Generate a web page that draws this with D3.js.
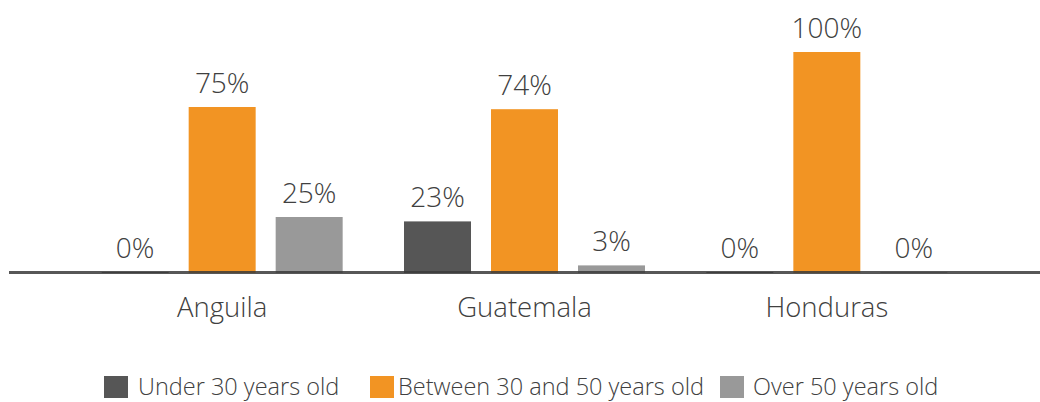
<!DOCTYPE html>
<html>
<head>
<meta charset="utf-8">
<script src="https://cdn.jsdelivr.net/npm/d3@7"></script>
<style>
  html, body { margin: 0; padding: 0; background: #ffffff; }
  svg { display: block; font-family: "Open Sans", Roboto, sans-serif; }
</style>
</head>
<body>
<svg id="chart" width="1040" height="402"></svg>
<script>
// Age distribution per country (percent)
const countries = ["Anguila", "Guatemala", "Honduras"];
const seriesNames = ["Under 30 years old", "Between 30 and 50 years old", "Over 50 years old"];
const under30 = [0, 23, 0];
const between30and50 = [75, 74, 100];
const over50 = [25, 3, 0];
const seriesColors = ["#565656", "#F29423", "#999999"];

const seriesValues = [under30, between30and50, over50];

const W = 1040, H = 402;
const FONT = "'Open Sans', Roboto, sans-serif";
const svg = d3.select("#chart");

const x0 = d3.scaleBand().domain(countries).range([71, 978]).padding(0);
const x1 = d3.scaleBand().domain(seriesNames)
  .range([-130.5, 130.5]).paddingInner(0.23).paddingOuter(0.115);
const y = d3.scaleLinear().domain([0, 100]).range([272, 52]);
const color = d3.scaleOrdinal().domain(seriesNames).range(seriesColors);

const rows = [];
countries.forEach((c, i) => {
  seriesNames.forEach((s, j) => rows.push({ country: c, series: s, value: seriesValues[j][i] }));
});

const cx = d => x0(d.country) + x0.bandwidth() / 2 + x1(d.series);

// bars
svg.append("g").selectAll("rect").data(rows).join("rect")
  .attr("x", cx)
  .attr("y", d => y(d.value))
  .attr("width", x1.bandwidth())
  .attr("height", d => y(0) - y(d.value) + 1)
  .attr("fill", d => color(d.series));

// value labels
svg.append("g").selectAll("text").data(rows).join("text")
  .attr("x", d => cx(d) + x1.bandwidth() / 2)
  .attr("y", d => y(d.value) - 14)
  .attr("text-anchor", "middle")
  .attr("font-family", FONT)
  .attr("font-size", 28)
  .attr("font-weight", 300)
  .attr("fill", "#404040")
  .text(d => d.value + "%");

// baseline
svg.append("line")
  .attr("x1", 9).attr("x2", W)
  .attr("y1", y(0) + 0.5).attr("y2", y(0) + 0.5)
  .attr("stroke", "#3a3a3a").attr("stroke-opacity", 0.85)
  .attr("stroke-width", 3);

// category axis
const xAxis = d3.axisBottom(x0).tickSize(0).tickPadding(0);
const gx = svg.append("g").attr("transform", `translate(0, ${y(0)})`).call(xAxis);
gx.select(".domain").remove();
gx.selectAll("text")
  .attr("dy", null)
  .attr("y", 45)
  .attr("font-size", 27.5)
  .attr("font-weight", 300)
  .attr("font-family", FONT)
  .attr("fill", "#404040");

// legend
const legendItems = [
  { name: seriesNames[0], x: 104, tx: 34 },
  { name: seriesNames[1], x: 370, tx: 28 },
  { name: seriesNames[2], x: 720, tx: 33 }
];
const lg = svg.append("g").selectAll("g").data(legendItems).join("g")
  .attr("transform", d => `translate(${d.x}, 376)`);
lg.append("rect")
  .attr("width", 24).attr("height", 22)
  .attr("fill", d => color(d.name));
lg.append("text")
  .attr("x", d => d.tx)
  .attr("y", 19)
  .attr("font-family", FONT)
  .attr("font-size", 23.5)
  .attr("font-weight", 300)
  .attr("fill", "#404040")
  .text(d => d.name);
</script>
</body>
</html>
